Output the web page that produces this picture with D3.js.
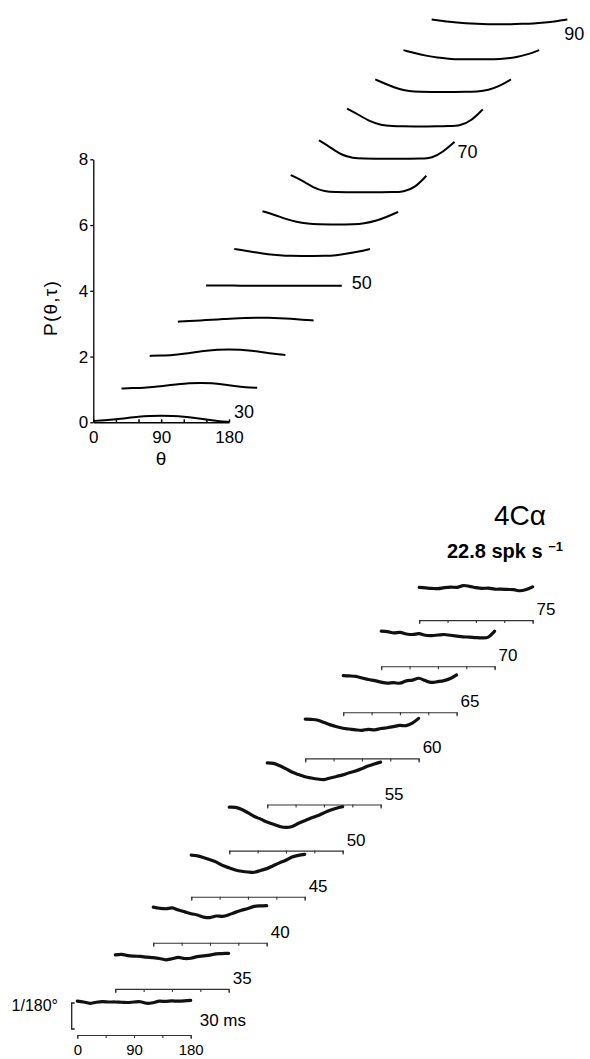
<!DOCTYPE html>
<html>
<head>
<meta charset="utf-8">
<script src="https://cdn.jsdelivr.net/npm/d3@7"></script>
<style>
  body { margin: 0; background: #fff; }
  text { font-family: Arial, "Liberation Sans", sans-serif; fill: #000; }
</style>
</head>
<body>
<svg id="chart" width="590" height="1059"></svg>
<script>
// ---- top panel data: P(theta, tau), one curve per delay (ms) ----
const topDelays = [30, 35, 40, 45, 50, 55, 60, 65, 70, 75, 80, 85, 90];
const topTheta = [0, 15, 30, 45, 60, 75, 90, 105, 120, 135, 150, 165, 180];
const p30 = [0.04, 0.06, 0.09, 0.13, 0.17, 0.19, 0.20, 0.19, 0.17, 0.13, 0.08, 0.04, 0.01];
const p35 = [0.03, 0.04, 0.05, 0.08, 0.12, 0.16, 0.19, 0.20, 0.19, 0.15, 0.10, 0.06, 0.05];
const p40 = [0.02, 0.03, 0.04, 0.08, 0.13, 0.18, 0.21, 0.22, 0.21, 0.18, 0.13, 0.08, 0.05];
const p45 = [0.06, 0.08, 0.10, 0.12, 0.14, 0.16, 0.17, 0.18, 0.18, 0.17, 0.15, 0.12, 0.10];
const p50 = [0.16, 0.16, 0.16, 0.155, 0.15, 0.15, 0.15, 0.15, 0.15, 0.15, 0.15, 0.15, 0.15];
const p55 = [0.27, 0.22, 0.16, 0.11, 0.08, 0.06, 0.06, 0.06, 0.06, 0.08, 0.13, 0.19, 0.27];
const p60 = [0.42, 0.32, 0.19, 0.09, 0.04, 0.02, 0.02, 0.02, 0.02, 0.05, 0.12, 0.25, 0.40];
const p65 = [0.52, 0.36, 0.14, 0.02, 0.0, 0.0, 0.0, 0.0, 0.0, 0.0, 0.01, 0.14, 0.50];
const p70 = [0.58, 0.37, 0.13, 0.03, 0.02, 0.02, 0.02, 0.02, 0.02, 0.02, 0.03, 0.23, 0.53];
const p75 = [0.54, 0.36, 0.15, 0.04, 0.01, 0.0, 0.0, 0.0, 0.0, 0.01, 0.02, 0.17, 0.52];
const p80 = [0.43, 0.28, 0.14, 0.07, 0.05, 0.05, 0.05, 0.05, 0.05, 0.06, 0.10, 0.23, 0.43];
const p85 = [0.32, 0.23, 0.15, 0.09, 0.06, 0.04, 0.04, 0.04, 0.04, 0.06, 0.11, 0.19, 0.32];
const p90 = [0.25, 0.21, 0.17, 0.14, 0.12, 0.11, 0.11, 0.11, 0.12, 0.13, 0.16, 0.20, 0.25];
const topCurves = [p30, p35, p40, p45, p50, p55, p60, p65, p70, p75, p80, p85, p90];
const topLabelled = [30, 50, 70, 90];
const yTickValues = [0, 2, 4, 6, 8];
const xTickValues = [0, 30, 60, 90, 120, 150, 180];

// ---- bottom panel data: 4C alpha traces, in units of 1/180 deg ----
const botDelays = [30, 35, 40, 45, 50, 55, 60, 65, 70, 75];
const botTheta = [0, 10, 20, 30, 40, 50, 60, 70, 80, 90, 100, 110, 120, 130, 140, 150, 160, 170, 180];
const r30 = [1.30, 1.27, 1.22, 1.26, 1.28, 1.27, 1.27, 1.26, 1.25, 1.27, 1.28, 1.22, 1.24, 1.30, 1.29, 1.31, 1.30, 1.31, 1.33];
const r35 = [1.31, 1.33, 1.28, 1.26, 1.25, 1.22, 1.20, 1.17, 1.12, 1.16, 1.21, 1.17, 1.18, 1.24, 1.27, 1.30, 1.35, 1.36, 1.37];
const r40 = [1.37, 1.33, 1.31, 1.34, 1.26, 1.19, 1.12, 1.07, 0.99, 0.97, 1.03, 1.02, 1.08, 1.17, 1.25, 1.32, 1.40, 1.42, 1.43];
const r45 = [1.60, 1.57, 1.50, 1.42, 1.33, 1.20, 1.11, 1.03, 0.98, 0.95, 0.94, 1.01, 1.08, 1.19, 1.30, 1.40, 1.53, 1.59, 1.63];
const r50 = [1.67, 1.66, 1.58, 1.45, 1.31, 1.21, 1.10, 1.01, 0.93, 0.89, 0.93, 1.05, 1.15, 1.25, 1.34, 1.45, 1.55, 1.63, 1.69];
const r55 = [1.60, 1.58, 1.49, 1.37, 1.24, 1.15, 1.07, 1.02, 0.98, 0.96, 1.02, 1.08, 1.14, 1.22, 1.29, 1.38, 1.48, 1.56, 1.63];
const r60 = [1.51, 1.50, 1.47, 1.38, 1.29, 1.22, 1.16, 1.13, 1.10, 1.08, 1.12, 1.10, 1.15, 1.18, 1.22, 1.27, 1.26, 1.36, 1.54];
const r65 = [1.41, 1.40, 1.38, 1.32, 1.26, 1.22, 1.16, 1.12, 1.14, 1.12, 1.21, 1.24, 1.31, 1.22, 1.15, 1.18, 1.22, 1.30, 1.44];
const r70 = [1.35, 1.33, 1.28, 1.30, 1.24, 1.22, 1.25, 1.19, 1.18, 1.20, 1.22, 1.19, 1.16, 1.13, 1.12, 1.10, 1.09, 1.12, 1.35];
const r75 = [1.26, 1.24, 1.22, 1.21, 1.25, 1.27, 1.26, 1.33, 1.30, 1.25, 1.22, 1.23, 1.19, 1.19, 1.18, 1.17, 1.13, 1.18, 1.28];
const botTraces = [r30, r35, r40, r45, r50, r55, r60, r65, r70, r75];
const botTicks = [0, 45, 90, 135, 180];
const botTickLabels = [0, 90, 180];

const chart = d3.select("#chart");

// ================= top panel =================
const xTop = d3.scaleLinear().domain([0, 180]).range([93.3, 229]);
const yTop = d3.scaleLinear().domain([0, 8]).range([422.3, 159.3]);
const topShift = 37.4;   // theta shift per delay step
const gTop = chart.append("g");

const yAxisTop = d3.axisLeft(yTop).tickValues(yTickValues).tickSizeInner(3).tickSizeOuter(0).tickPadding(2);
gTop.append("g").attr("transform", `translate(${xTop(0)},0)`).call(yAxisTop)
      .call(g => g.selectAll("text").attr("font-size", "17px"))
      .call(g => g.selectAll("path,line").attr("stroke", "#000").attr("stroke-width", 1.3));

const xAxisTop = d3.axisBottom(xTop).tickValues(xTickValues).tickSizeInner(-3).tickSizeOuter(0).tickPadding(9)
      .tickFormat(d => d % 90 === 0 ? d : "");
gTop.append("g").attr("transform", `translate(0,${yTop(0)})`).call(xAxisTop)
      .call(g => g.selectAll("text").attr("font-size", "17px"))
      .call(g => g.selectAll("path,line").attr("stroke", "#000").attr("stroke-width", 1.5));

gTop.append("text").text("P(θ,τ)")
      .attr("transform", "translate(57,308) rotate(-90)")
      .attr("text-anchor", "middle").attr("font-size", "19px")
      .attr("letter-spacing", "1.2px");
gTop.append("text").text("θ")
      .attr("x", xTop(90)).attr("y", 465)
      .attr("text-anchor", "middle").attr("font-size", "19px");

const topLine = d3.line()
      .x(d => xTop(d[0]))
      .y(d => yTop(d[1]))
      .curve(d3.curveBasis);

topCurves.forEach((vals, i) => {
      const pts = topTheta.map((t, j) => [t + i * topShift, i + vals[j]]);
      gTop.append("path")
            .attr("d", topLine(pts))
            .attr("fill", "none")
            .attr("stroke", "#000")
            .attr("stroke-width", 2);
});

// label offsets from curve end (px)
const topLabelOffset = { 30: [5, -4], 50: [10, 3.5], 70: [3, 16.5], 90: [-3, 20.5] };
topLabelled.forEach(ms => {
      const i = topDelays.indexOf(ms);
      const vals = topCurves[i];
      const ex = xTop(180 + i * topShift);
      const ey = yTop(i + vals[vals.length - 1]);
      const off = topLabelOffset[ms];
      gTop.append("text").text(ms)
            .attr("x", ex + off[0]).attr("y", ey + off[1])
            .attr("font-size", "18px");
});

// ================= bottom panel =================
const xBot = d3.scaleLinear().domain([0, 180]).range([77.3, 190.7]);
const yBot = d3.scaleLinear().domain([0, 1]).range([1035, 1009]);
const botShift = 60.3;   // theta shift per delay step
const botStep = 1.773;   // vertical shift per delay step (1/180 units)
const gBot = chart.append("g");

const botLine = d3.line()
      .x(d => xBot(d[0]))
      .y(d => yBot(d[1]))
      .curve(d3.curveCatmullRom);

botTraces.forEach((vals, i) => {
      const x0 = i * botShift;
      const base = i * botStep;
      // each bar covers its own 0-180 slice of the shared scale
      const sub = xBot.copy().domain([x0, x0 + 180]).range([xBot(x0), xBot(x0 + 180)]);
      const axis = d3.axisBottom(sub)
            .tickValues(botTicks.map(t => t + x0))
            .tickSizeInner(3).tickSizeOuter(4).tickPadding(6)
            .tickFormat(d => (i === 0 && botTickLabels.includes(d)) ? d : "");
      gBot.append("g")
            .attr("transform", `translate(0,${yBot(base)})`)
            .call(axis)
            .call(g => g.selectAll("text").attr("font-size", "15px"))
            .call(g => g.selectAll("path,line").attr("stroke", "#333").attr("stroke-width", 1.1));

      const pts = botTheta.map((t, j) => [t + x0, base + vals[j]]);
      gBot.append("path")
            .attr("d", botLine(pts))
            .attr("fill", "none")
            .attr("stroke", "#111")
            .attr("stroke-width", 3.2)
            .attr("stroke-linejoin", "round")
            .attr("stroke-linecap", "round");

      const ex = xBot(x0 + 180);
      const ey = yBot(base);
      gBot.append("text")
            .text(i === 0 ? botDelays[i] + " ms" : botDelays[i])
            .attr("x", i === 0 ? ex + 9 : ex + 4)
            .attr("y", i === 0 ? ey - 9 : ey - 5)
            .attr("font-size", "17px");
});

// vertical scale bar = 1/180 deg
const sbTop = yBot(1.23), sbBot = yBot(0.23), sbX = 71.7;
gBot.append("path")
      .attr("d", `M${sbX + 3},${sbTop}H${sbX}V${sbBot}H${sbX + 3}`)
      .attr("fill", "none").attr("stroke", "#222").attr("stroke-width", 1.3);
gBot.append("text").text("1/180°")
      .attr("x", 58).attr("y", sbTop + 8)
      .attr("text-anchor", "end").attr("font-size", "16px");

// title
gBot.append("text").text("4Cα")
      .attr("x", 494).attr("y", 525).attr("font-size", "28px");
const rate = gBot.append("text")
      .attr("x", 447).attr("y", 558).attr("font-size", "20px").attr("font-weight", "600");
rate.append("tspan").text("22.8 spk s ");
rate.append("tspan").text("−1").attr("font-size", "13px").attr("dy", -7);
</script>
</body>
</html>
